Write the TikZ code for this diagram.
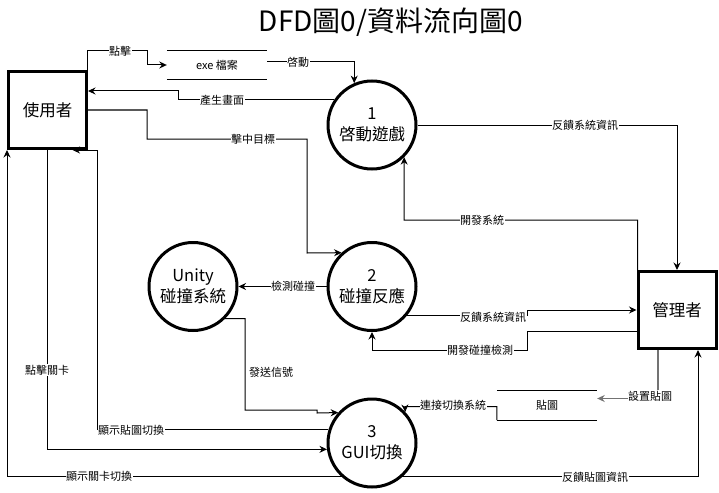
\documentclass[tikz,border=0pt]{standalone}
\usepackage{fontspec}
\setmainfont{Noto Sans CJK TC}
\usetikzlibrary{arrows.meta,calc}
\begin{document}
\begin{tikzpicture}[x=1pt,y=-1pt,
  proc/.style={circle,draw,line width=3pt,minimum size=88pt,inner sep=0pt,align=center,font=\fontsize{16.5}{21}\selectfont},
  ent/.style={rectangle,draw,line width=3pt,minimum width=78pt,minimum height=77pt,inner sep=0pt,font=\fontsize{16.5}{20}\selectfont},
  store/.style={minimum width=100pt,minimum height=29pt,inner sep=0pt,font=\fontsize{11}{13}\selectfont},
  flow/.style={line width=1pt,-{Stealth[length=7.5pt,width=7pt]}},
  grayflow/.style={flow,draw=black!55,line width=1.3pt},
  lbl/.style={fill=white,inner sep=0.5pt,font=\fontsize{11}{13}\selectfont},
  plainlbl/.style={inner sep=0.5pt,font=\fontsize{11}{13}\selectfont},
  storeline/.style={line width=1pt}]
\useasboundingbox (0,0) rectangle (719,492);

\node[font=\fontsize{28}{30}\selectfont] (title) at (391,22) {DFD圖0/資料流向圖0};

\node[ent] (user) at (47.5,110) {使用者};
\node[ent] (mgr) at (677,310) {管理者};
\node[proc] (c1) at (372,125) {1\\啓動遊戲};
\node[proc] (c2) at (372,286.5) {2\\碰撞反應};
\node[proc] (cu) at (193,286.5) {Unity\\碰撞系統};
\node[proc] (c3) at (372,443) {3\\GUI切換};
\node[store] (exe) at (217,65) {exe 檔案};
\node[store] (tex) at (547,405.5) {貼圖};
\draw[storeline] (exe.north west) -- (exe.north east) (exe.south west) -- (exe.south east);
\draw[storeline] (tex.north west) -- (tex.north east) (tex.south west) -- (tex.south east);

% connectors
\draw[flow] ([xshift=-1pt]user.north east) |- (147,51) |- (exe.west);
\draw[flow] ([yshift=3pt]exe.east) -| (c1.113.3);
\draw[flow] (c1.146.7) -| (178,91) -- (user.east |- 178,91);
\draw[flow] (user.east) -| (147,139) -| (307,253) -- (c2.132);
\draw[flow] (c1.east) -| (mgr.north);
\draw[flow] ([xshift=1pt]mgr.north west) |- (404,220) -- (c1.-45.3);
\draw[flow] (c2.west) -- (cu.east);
\draw[flow] (c2.-39.6) -| (527,310) -- (mgr.west);
\draw[flow] ([yshift=-21pt]mgr.west) -| (527,350) -| (c2.south);
\draw[flow] (cu.-45) -| (245,410) -| (317,413) -- (c3.138.8);
\draw[flow] (c3.163.4) -| ([xshift=50pt]user.south) -- ([xshift=25pt]user.south);
\draw[flow] (user.south) |- (c3.188.85);
\draw[flow] (c3.228.4) -| (user.south west);
\draw[flow] (c3.-48.4) -| ([xshift=21pt]mgr.south);
\draw[grayflow] ([xshift=-19pt]mgr.south) |- ([yshift=7pt]tex.east);
\draw[flow] (tex.south west) |- (405,406.7) -- (c3.43.5);

% labels
\node[lbl] (l1) at (120,51) {點擊};
\node[lbl] (l2) at (298,62) {啓動};
\node[lbl] (l3) at (222,100) {產生畫面};
\node[lbl] (l4) at (253,139) {擊中目標};
\node[lbl] (l5) at (585,125) {反饋系統資訊};
\node[lbl] (l6) at (482,220) {開發系統};
\node[lbl] (l7) at (293,286.5) {檢測碰撞};
\node[lbl] (l8) at (493,317) {反饋系統資訊};
\node[lbl] (l9) at (480,350) {開發碰撞檢測};
\node[plainlbl] (l10) at (271,372) {發送信號};
\node[lbl] (l11) at (131,430) {顯示貼圖切換};
\node[lbl] (l12) at (47,370) {點擊關卡};
\node[lbl] (l13) at (99,476) {顯示關卡切換};
\node[lbl] (l14) at (595,477) {反饋貼圖資訊};
\node[lbl] (l15) at (650,396) {設置貼圖};
\node[lbl] (l16) at (453,405) {連接切換系統};
\end{tikzpicture}
\end{document}
